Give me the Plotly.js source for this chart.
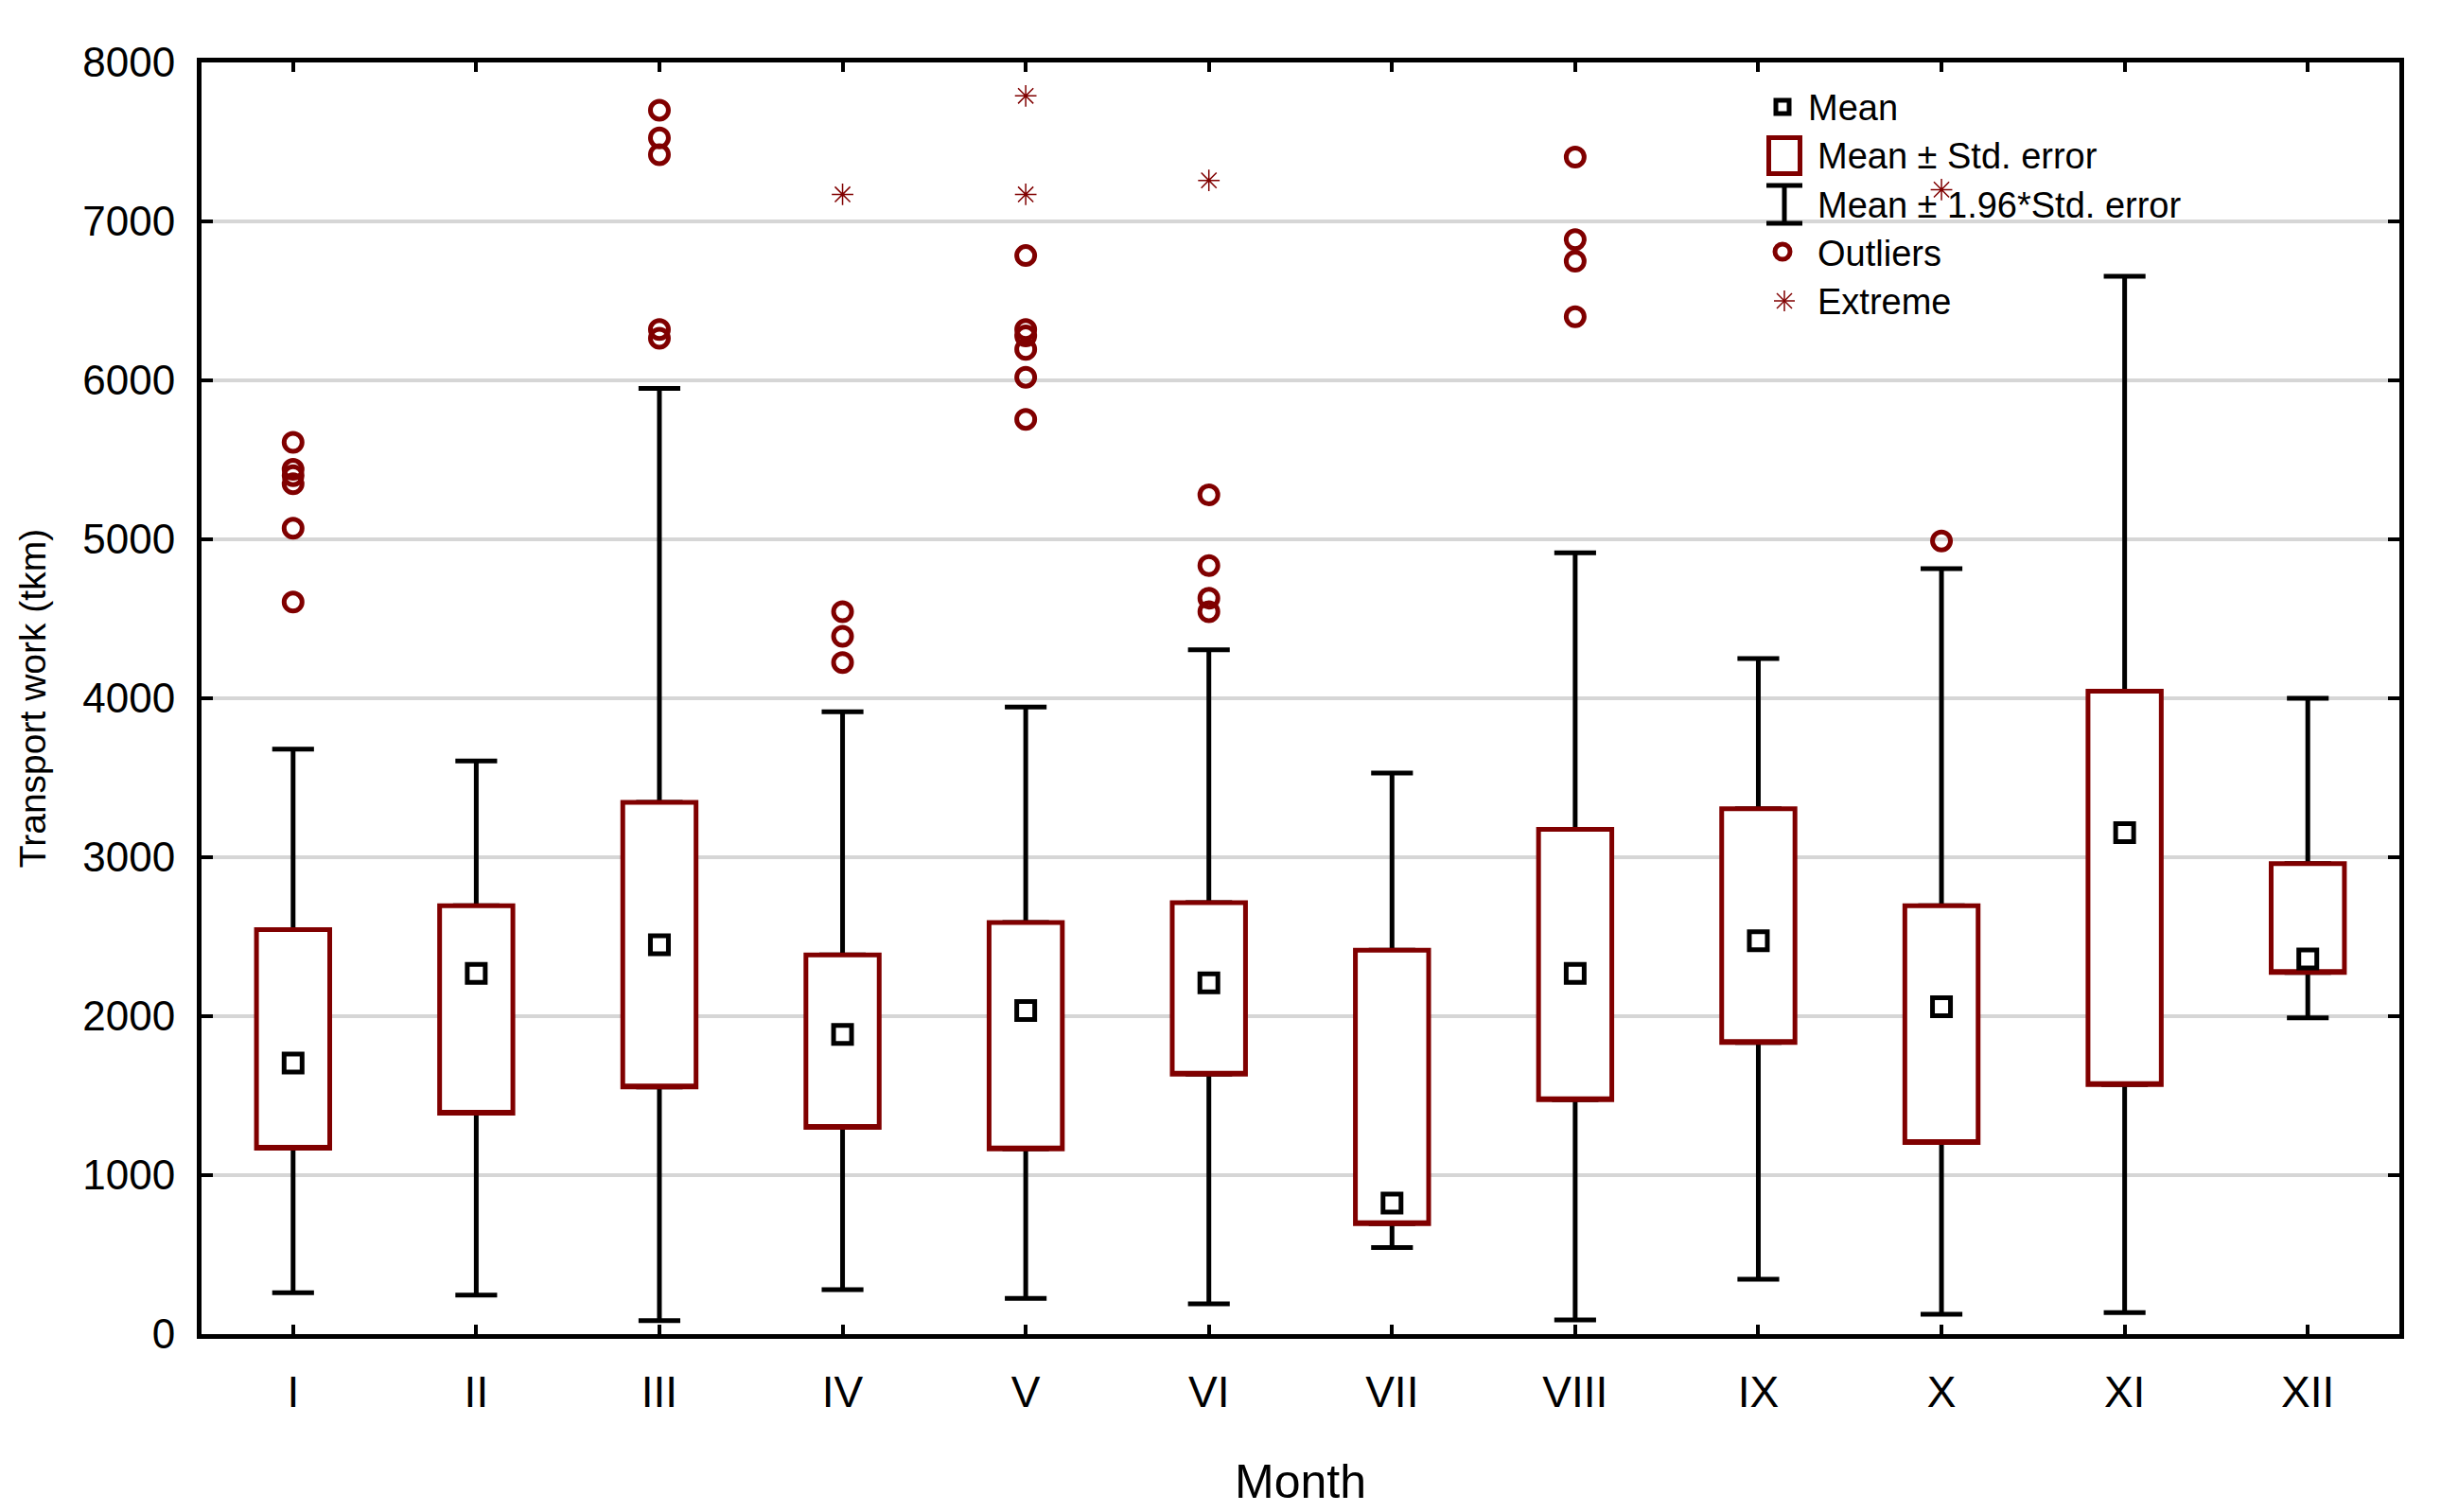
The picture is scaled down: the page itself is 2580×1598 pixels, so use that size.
<!DOCTYPE html>
<html>
<head>
<meta charset="utf-8">
<script src="https://cdn.plot.ly/plotly-3.0.1.min.js"></script>
<style>html,body{margin:0;padding:0;background:#fff;}#chart{width:2580px;height:1598px;}</style>
</head>
<body>
<div id="chart"></div>
<script>
// ---- data ----
const months = ['I','II','III','IV','V','VI','VII','VIII','IX','X','XI','XII'];
const meanValues   = [1705, 2270, 2450, 1885, 2035, 2210, 825, 2270, 2475, 2060, 3155, 2360];
const boxHigh      = [2545, 2695, 3345, 2385, 2590, 2715, 2415, 3175, 3305, 2695, 4045, 2960];
const boxLow       = [1170, 1390, 1555, 1300, 1165, 1635, 695, 1475, 1835, 1205, 1570, 2275];
const whiskerHigh  = [3680, 3605, 5950, 3915, 3945, 4305, 3530, 4915, 4250, 4815, 6655, 4000];
const whiskerLow   = [260, 245, 85, 280, 225, 190, 545, 90, 345, 125, 135, 1990];
const outlierValues = [
  [5610, 5440, 5400, 5350, 5070, 4605],
  [],
  [7700, 7525, 7420, 6320, 6265],
  [4545, 4390, 4225],
  [6785, 6320, 6280, 6195, 6020, 5755],
  [5280, 4835, 4630, 4545],
  [],
  [7405, 6885, 6750, 6400],
  [],
  [4990],
  [],
  []
];
const extremeMonths = ['IV', 'V', 'V', 'VI', 'X'];
const extremeValues = [7170, 7790, 7170, 7258, 7200];
const legendLabels = ['Mean', 'Mean \u00b1 Std. error', 'Mean \u00b1 1.96*Std. error', 'Outliers', 'Extreme'];

// ---- build traces ----
const outX = [], outY = [];
outlierValues.forEach((vals, i) => vals.forEach(v => { outX.push(months[i]); outY.push(v); }));

const RED = '#800000';
const FONT = 'Liberation Sans, Arial, sans-serif';

const whiskers = {
  type: 'box', orientation: 'v', x: months,
  q1: boxLow, q3: boxHigh, median: boxLow,
  lowerfence: whiskerLow, upperfence: whiskerHigh,
  width: 0.228, whiskerwidth: 1,
  line: {color: 'black', width: 5}, fillcolor: 'rgba(0,0,0,0)',
  boxpoints: false, showlegend: false, hoverinfo: 'skip'
};
const boxes = {
  type: 'box', orientation: 'v', x: months,
  q1: boxLow, q3: boxHigh, median: boxLow,
  lowerfence: boxLow, upperfence: boxHigh,
  width: 0.40, whiskerwidth: 0,
  line: {color: RED, width: 5}, fillcolor: 'white',
  boxpoints: false, showlegend: false, hoverinfo: 'skip'
};
const means = {
  type: 'scatter', mode: 'markers', x: months, y: meanValues,
  marker: {symbol: 'square', size: 19, color: 'white', line: {color: 'black', width: 5}},
  showlegend: false
};
const outliers = {
  type: 'scatter', mode: 'markers', x: outX, y: outY,
  marker: {symbol: 'circle-open', size: 19, color: RED, line: {color: RED, width: 5}},
  showlegend: false
};
const extremes = {
  type: 'scatter', mode: 'markers', x: extremeMonths, y: extremeValues,
  marker: {symbol: 'asterisk-open', size: 19, color: RED, line: {color: RED, width: 1.5}},
  showlegend: false
};

// ---- legend (drawn in paper coords) ----
const L = 213, R = 2536, T = 66, B = 1410;
const px = x => (x - L) / (R - L);
const py = y => (B - y) / (B - T);
const shapes = [
  // mean icon
  {type: 'rect', xref: 'paper', yref: 'paper', x0: px(1877), x1: px(1891), y0: py(106), y1: py(120),
   line: {color: 'black', width: 5}, fillcolor: 'white'},
  // box icon
  {type: 'rect', xref: 'paper', yref: 'paper', x0: px(1869.5), x1: px(1902.5), y0: py(145.5), y1: py(183.5),
   line: {color: RED, width: 5}, fillcolor: 'white'},
  // I-beam icon
  {type: 'line', xref: 'paper', yref: 'paper', x0: px(1886), x1: px(1886), y0: py(196), y1: py(236),
   line: {color: 'black', width: 5}},
  {type: 'line', xref: 'paper', yref: 'paper', x0: px(1867), x1: px(1905), y0: py(196), y1: py(196),
   line: {color: 'black', width: 5}},
  {type: 'line', xref: 'paper', yref: 'paper', x0: px(1867), x1: px(1905), y0: py(236), y1: py(236),
   line: {color: 'black', width: 5}},
  // outlier icon
  {type: 'circle', xref: 'paper', yref: 'paper', x0: px(1876), x1: px(1892), y0: py(258), y1: py(274),
   line: {color: RED, width: 5}},
  // extreme icon
  {type: 'line', xref: 'paper', yref: 'paper', x0: px(1886), x1: px(1886), y0: py(307), y1: py(329), line: {color: RED, width: 1.5}},
  {type: 'line', xref: 'paper', yref: 'paper', x0: px(1875), x1: px(1897), y0: py(318), y1: py(318), line: {color: RED, width: 1.5}},
  {type: 'line', xref: 'paper', yref: 'paper', x0: px(1878), x1: px(1894), y0: py(310), y1: py(326), line: {color: RED, width: 1.5}},
  {type: 'line', xref: 'paper', yref: 'paper', x0: px(1878), x1: px(1894), y0: py(326), y1: py(310), line: {color: RED, width: 1.5}}
];
const legendX = [1909, 1919, 1919, 1919, 1919];
const legendY = [114, 165, 217, 268, 319];
const annotations = legendLabels.map((t, i) => ({
  text: t, xref: 'paper', yref: 'paper', x: px(legendX[i]), y: py(legendY[i]),
  xanchor: 'left', yanchor: 'middle', showarrow: false,
  font: {family: FONT, size: 38, color: 'black'}
}));

const layout = {
  width: 2580, height: 1598,
  margin: {l: L, r: 2580 - R, t: T, b: 1598 - B, pad: 0},
  paper_bgcolor: 'white', plot_bgcolor: 'white',
  showlegend: false,
  boxmode: 'overlay',
  font: {family: FONT, color: 'black'},
  xaxis: {
    type: 'category', categoryorder: 'array', categoryarray: months,
    range: [-0.5, 11.5], fixedrange: true,
    showline: true, linecolor: 'black', linewidth: 5, mirror: 'ticks',
    ticks: 'inside', ticklen: 10, tickwidth: 4, tickcolor: 'black',
    showgrid: false, zeroline: false,
    tickfont: {family: FONT, size: 46, color: 'black'},
    ticklabelstandoff: 17,
    title: {text: 'Month', font: {family: FONT, size: 50, color: 'black'}, standoff: 53}
  },
  yaxis: {
    range: [0, 8000], tick0: 0, dtick: 1000, fixedrange: true,
    showline: true, linecolor: 'black', linewidth: 5, mirror: 'ticks',
    ticks: 'inside', ticklen: 12, tickwidth: 4, tickcolor: 'black',
    showgrid: true, gridcolor: '#d6d6d6', gridwidth: 4, zeroline: false,
    tickfont: {family: FONT, size: 44, color: 'black'},
    ticklabelstandoff: 14,
    title: {text: 'Transport work (tkm)', font: {family: FONT, size: 39, color: 'black'}, standoff: 28}
  },
  shapes: shapes,
  annotations: annotations
};

Plotly.newPlot('chart', [whiskers, boxes, means, outliers, extremes], layout, {staticPlot: true, displayModeBar: false});
</script>
</body>
</html>
